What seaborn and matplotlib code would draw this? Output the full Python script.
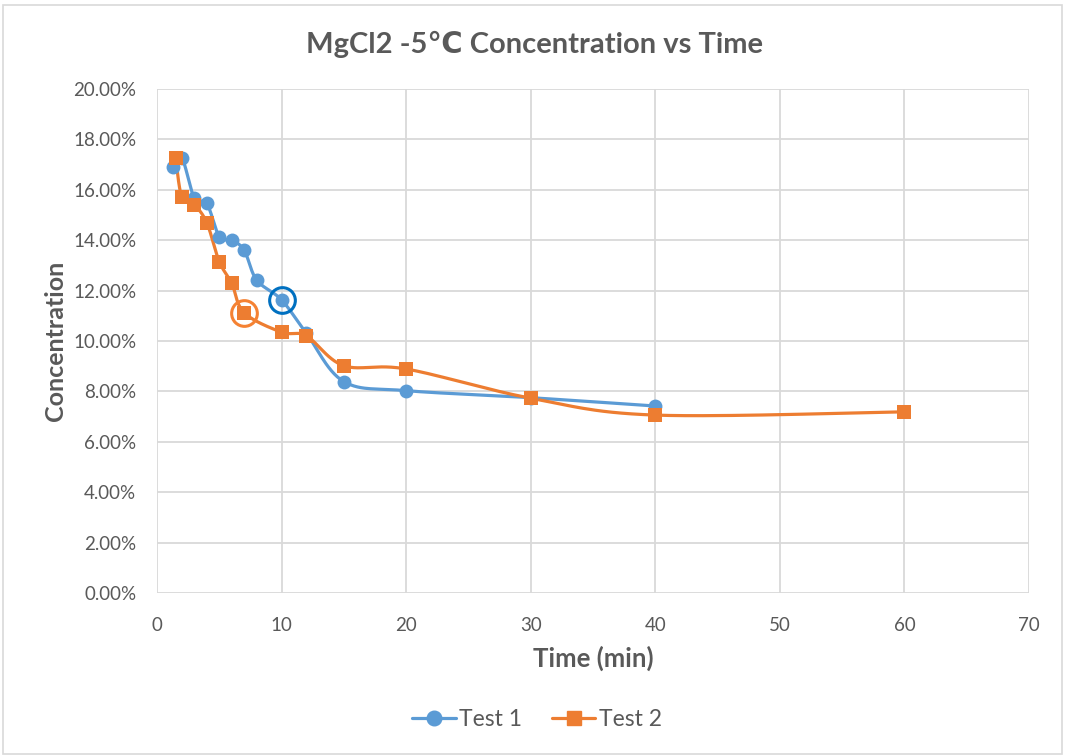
import numpy as np
import pandas as pd
import matplotlib
matplotlib.use("Agg")
import matplotlib.pyplot as plt
import seaborn as sns
from matplotlib.lines import Line2D
from matplotlib.patches import Rectangle

# ---- data ----
t1 = [1.3, 2, 3, 4, 5, 6, 7, 8, 10, 12, 15, 20, 30, 40]
c1 = [0.1692, 0.1727, 0.1566, 0.1546, 0.1414, 0.1400, 0.1360, 0.1242, 0.1163, 0.1030, 0.0839, 0.0803, 0.0775, 0.0742]
t2 = [1.5, 2, 3, 4, 5, 6, 7, 10, 12, 15, 20, 30, 40, 60]
c2 = [0.1725, 0.1570, 0.1540, 0.1469, 0.1315, 0.1229, 0.1112, 0.1035, 0.1020, 0.0902, 0.0889, 0.0773, 0.0706, 0.0719]
highlight1 = (10, 0.1163)
highlight2 = (7, 0.1112)

title = "MgCl2 -5\u2103 Concentration vs Time"
xlabel = "Time (min)"
ylabel = "Concentration"
names = ["Test 1", "Test 2"]

BLUE = "#5B9BD5"
ORANGE = "#ED7D31"
GRAY = "#595959"

sns.set_style("whitegrid", {"grid.color": "#D9D9D9", "axes.edgecolor": "#D9D9D9"})
plt.rcParams["font.family"] = ["Lato", "DejaVu Sans"]

fig = plt.figure(figsize=(10.65, 7.56), dpi=100)
ax = fig.add_axes([157/1065, 1-593/756, (1029-157)/1065, (593-89)/756])

XMAX, YMAX = 70, 0.20
W, H = 872.0, 504.0

def smooth(x, y, n=30):
    # Catmull-Rom style bezier (Excel-like) computed in screen-proportional space
    P = np.column_stack([np.array(x)/XMAX*W, np.array(y)/YMAX*H])
    out = [P[0]]
    for i in range(len(P)-1):
        p0 = P[i-1] if i > 0 else P[i]
        p1 = P[i]
        p2 = P[i+1]
        p3 = P[i+2] if i+2 < len(P) else P[i+1]
        b1 = p1 + (p2 - p0)/6
        b2 = p2 - (p3 - p1)/6
        s = np.linspace(0, 1, n)[1:, None]
        seg = (1-s)**3*p1 + 3*(1-s)**2*s*b1 + 3*(1-s)*s**2*b2 + s**3*p2
        out.extend(seg)
    out = np.array(out)
    return out[:, 0]/W*XMAX, out[:, 1]/H*YMAX

df1 = pd.DataFrame({"t": t1, "c": c1})
df2 = pd.DataFrame({"t": t2, "c": c2})

for df, col, mk, ms in [(df1, BLUE, "o", 10), (df2, ORANGE, "s", 9.5)]:
    sx, sy = smooth(df["t"].values, df["c"].values)
    ax.plot(sx, sy, color=col, lw=2.3, solid_capstyle="round", zorder=3)
    sns.scatterplot(data=df, x="t", y="c", ax=ax, color=col, marker=mk,
                    s=ms**2, edgecolor=col, linewidth=0, zorder=4, legend=False)

ax.plot([highlight1[0]], [highlight1[1]], marker="o", ms=18.5, mfc="none",
        mec="#0070C0", mew=2.2, zorder=5, ls="none")
ax.plot([highlight2[0]], [highlight2[1]], marker="o", ms=18.5, mfc="none",
        mec="#F58233", mew=2.2, zorder=5, ls="none")

ax.set_xlim(0, 70)
ax.set_ylim(0, 0.20)
ax.set_xticks(np.arange(0, 71, 10))
ax.set_yticks(np.arange(0, 0.2001, 0.02))
ax.set_yticklabels([f"{v*100:.2f}%" for v in np.arange(0, 0.2001, 0.02)])
ax.tick_params(axis="both", length=0, labelsize=13.5, labelcolor=GRAY)
ax.tick_params(axis="y", pad=15)
ax.tick_params(axis="x", pad=17)
for s in ax.spines.values():
    s.set_visible(False)
ax.grid(True, color="#D9D9D9", lw=1.3)
ax.set_xlabel(xlabel, fontsize=18.5, fontweight="bold", color=GRAY, labelpad=9)
ax.set_ylabel(ylabel, fontsize=18, fontweight="bold", color=GRAY, labelpad=4)

fig.text(535/1065, 1-44/756, title, ha="center", va="center", fontsize=21,
         fontweight="bold", color=GRAY, family=["Lato", "DejaVu Sans"])

handles = [Line2D([], [], color=BLUE, lw=2.3, marker="o", ms=10.5, mec=BLUE),
           Line2D([], [], color=ORANGE, lw=2.3, marker="s", ms=10, mec=ORANGE)]
fig.legend(handles, names, loc="center", bbox_to_anchor=(537/1065, 1-720/756),
           ncol=2, frameon=False, fontsize=16.5, handlelength=1.9,
           columnspacing=1.3, handletextpad=0.15, labelcolor=GRAY)

fig.patches.append(Rectangle((3/1065, 0.002), 1-6/1065, 1-5/756-0.002,
                             transform=fig.transFigure, fill=False,
                             edgecolor="#D9D9D9", lw=1.2))

fig.savefig("out.png", dpi=100, facecolor="white")
